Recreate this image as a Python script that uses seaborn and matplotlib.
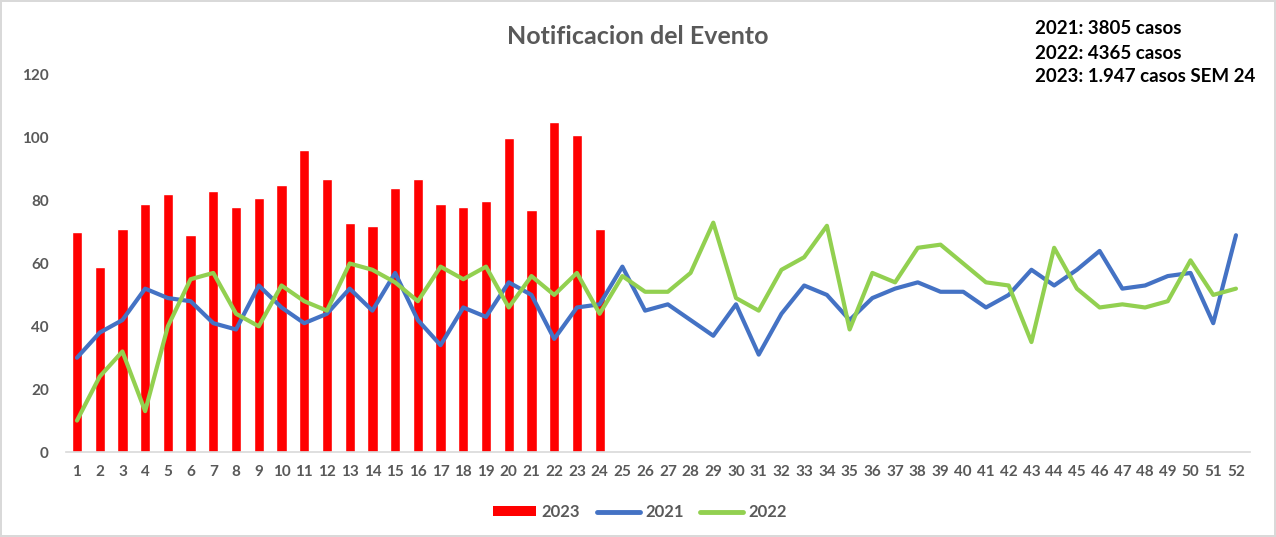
import numpy as np
import pandas as pd
import matplotlib
matplotlib.use("Agg")
import matplotlib.pyplot as plt
import seaborn as sns
from matplotlib.patches import Patch
from matplotlib.lines import Line2D

weeks = list(range(1, 53))
cases_2023 = [70, 59, 71, 79, 82, 69, 83, 78, 81, 85, 96, 87, 73, 72, 84, 87, 79, 78,
              80, 100, 77, 105, 101, 71]
cases_2021 = [30, 38, 42, 52, 49, 48, 41, 39, 53, 46, 41, 44, 52, 45, 57, 42, 34, 46,
              43, 54, 50, 36, 46, 47, 59, 45, 47, 42, 37, 47, 31, 44, 53, 50, 42, 49,
              52, 54, 51, 51, 46, 50, 58, 53, 58, 64, 52, 53, 56, 57, 41, 69]
cases_2022 = [10, 24, 32, 13, 40, 55, 57, 44, 40, 53, 48, 45, 60, 58, 54, 48, 59, 55,
              59, 46, 56, 50, 57, 44, 56, 51, 51, 57, 73, 49, 45, 58, 62, 72, 39, 57,
              54, 65, 66, 60, 54, 53, 35, 65, 52, 46, 47, 46, 48, 61, 50, 52]
title = "Notificacion del Evento"
notes = ["2021: 3805 casos", "2022: 4365 casos", "2023: 1.947 casos SEM 24"]
y_ticks = [0, 20, 40, 60, 80, 100, 120]

c_red = "#FF0000"
c_blue = "#4472C4"
c_green = "#92D050"
c_txt = "#595959"

sns.set_theme(style="white")
plt.rcParams["font.family"] = ["Lato", "DejaVu Sans"]

W, H = 1276, 537
fig = plt.figure(figsize=(W / 100, H / 100), dpi=100)
fig.patch.set_facecolor("white")
fig.patch.set_edgecolor("#D9D9D9")
fig.patch.set_linewidth(1.5)

left_px, right_px = 65.6, 1249.6
bot_px, top_px = 452, 75
ax = fig.add_axes([left_px / W, 1 - bot_px / H, (right_px - left_px) / W, (bot_px - top_px) / H])

df_bar = pd.DataFrame({"week": weeks[:len(cases_2023)], "cases": cases_2023})
df_lines = pd.DataFrame({"week": weeks, "2021": cases_2021, "2022": cases_2022})

sns.barplot(data=df_bar, x="week", y="cases", native_scale=True, color=c_red,
            saturation=1, width=0.45, ax=ax, zorder=1)
sns.lineplot(data=df_lines, x="week", y="2021", color=c_blue, linewidth=3, ax=ax, zorder=3)
sns.lineplot(data=df_lines, x="week", y="2022", color=c_green, linewidth=3, ax=ax, zorder=4)

ax.set_xlim(0.5, 52.6)
ax.set_ylim(0, 120)
ax.set_xticks(weeks)
ax.set_xticklabels([str(w) for w in weeks], fontsize=11, fontweight="bold", color=c_txt)
ax.set_yticks(y_ticks)
ax.set_yticklabels([str(v) for v in y_ticks], fontsize=11, fontweight="bold", color=c_txt)
ax.tick_params(axis="both", length=0)
ax.tick_params(axis="x", pad=9)
ax.tick_params(axis="y", pad=12)
ax.set_xlabel("")
ax.set_ylabel("")
for s in ["top", "right", "left"]:
    ax.spines[s].set_visible(False)
ax.spines["bottom"].set_color("#D9D9D9")
ax.spines["bottom"].set_linewidth(1.2)
ax.grid(False)

fig.text(638 / W, 1 - 37 / H, title, ha="center", va="center", fontsize=18,
         fontweight="bold", color=c_txt)
for i, n in enumerate(notes):
    fig.text(1035 / W, 1 - (29 + 24 * i) / H, n, ha="left", va="center", fontsize=13.5,
             fontweight="bold", color="black")

handles = [Patch(facecolor=c_red, edgecolor="none"),
           Line2D([0], [0], color=c_blue, linewidth=3.5),
           Line2D([0], [0], color=c_green, linewidth=3.5)]
leg = fig.legend(handles, ["2023", "2021", "2022"], loc="center", ncol=3,
                 bbox_to_anchor=(640 / W, 1 - 512 / H), frameon=False,
                 prop={"weight": "bold", "size": 12}, handlelength=2.6,
                 handleheight=0.55, columnspacing=1.0, handletextpad=0.3)
for t in leg.get_texts():
    t.set_color(c_txt)

fig.savefig("out.png", dpi=100)
